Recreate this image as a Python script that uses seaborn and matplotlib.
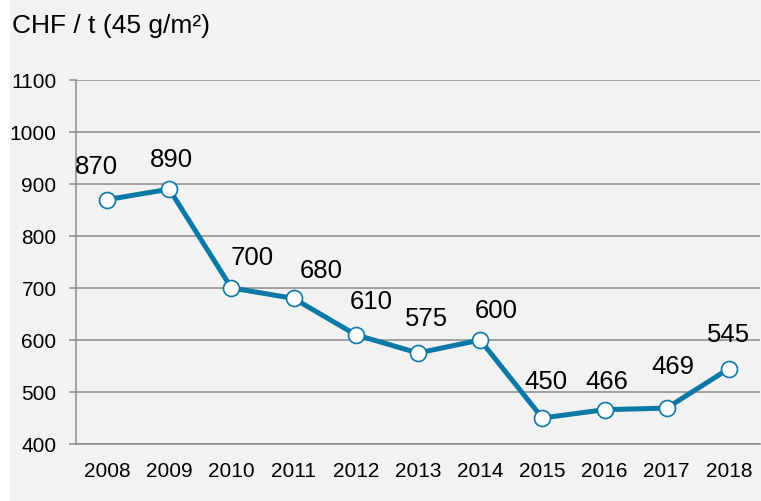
import matplotlib
matplotlib.use("Agg")
import matplotlib.pyplot as plt
from matplotlib.patches import Rectangle
from matplotlib.ticker import FixedLocator, MultipleLocator
import seaborn as sns
import pandas as pd

years = ["2008", "2009", "2010", "2011", "2012", "2013", "2014", "2015", "2016", "2017", "2018"]
prices = [870, 890, 700, 680, 610, 575, 600, 450, 466, 469, 545]
title_text = "CHF / t (45 g/m²)"

# manual label offsets (pixels) relative to each point
label_dx = [-11, 2, 21, 28, 15, 8, 16, 4, 2, 6, 0]
label_dy = [27, 23, 24, 21, 27, 28, 23, 30, 22, 35, 28]

sns.set_theme(style="white")
plt.rcParams["font.family"] = ["Liberation Sans", "DejaVu Sans"]

BG = "#f2f2f2"
GRID = "#8a8a8a"
LINE = "#0b79a5"

W, H = 761, 502
fig = plt.figure(figsize=(W / 100, H / 100), dpi=100, facecolor="white")
fig.patches.append(Rectangle((10 / W, 0), 1 - 10 / W, 1, transform=fig.transFigure,
                             facecolor=BG, edgecolor="none", zorder=-10))
ax = fig.add_axes([76 / W, 1 - 445 / H, (760 - 76) / W, (445 - 81) / H])
ax.set_facecolor(BG)

df = pd.DataFrame({"year": years, "price": prices})
sns.lineplot(data=df, x="year", y="price", ax=ax, color=LINE, linewidth=3.6,
             marker="o", markersize=11.5, markerfacecolor="white",
             markeredgecolor=LINE, markeredgewidth=1.2, zorder=5)

ax.set_xlim(-0.5, len(years) - 0.5)
ax.set_ylim(400, 1100)
ax.yaxis.set_major_locator(MultipleLocator(100))
ax.grid(axis="y", color=GRID, linewidth=1.1)
ax.set_axisbelow(True)
for s in ["top", "right"]:
    ax.spines[s].set_visible(False)
for s in ["left", "bottom"]:
    ax.spines[s].set_color(GRID)
    ax.spines[s].set_linewidth(1.1)

ax.set_xlabel("")
ax.set_ylabel("")
ax.xaxis.set_minor_locator(FixedLocator([i - 0.5 for i in range(len(years) + 1)]))
ax.tick_params(axis="x", which="major", length=0, pad=12, labelsize=15, labelcolor="black")
ax.tick_params(axis="x", which="minor", length=4.5, width=1.1, color=GRID, direction="out")
ax.tick_params(axis="y", which="major", length=5, width=1.1, color=GRID, pad=9,
               labelsize=15, labelcolor="black", left=True)

for i, (v, dx, dy) in enumerate(zip(prices, label_dx, label_dy)):
    ax.annotate(f"{v}", xy=(i, v), xytext=(dx, dy), textcoords="offset pixels",
                ha="center", va="baseline", fontsize=18.5, color="black", zorder=6)

fig.text(12 / W, 1 - 33 / H, title_text, fontsize=19, color="black",
         ha="left", va="baseline")

fig.savefig("out.png", dpi=100, facecolor=fig.get_facecolor())
